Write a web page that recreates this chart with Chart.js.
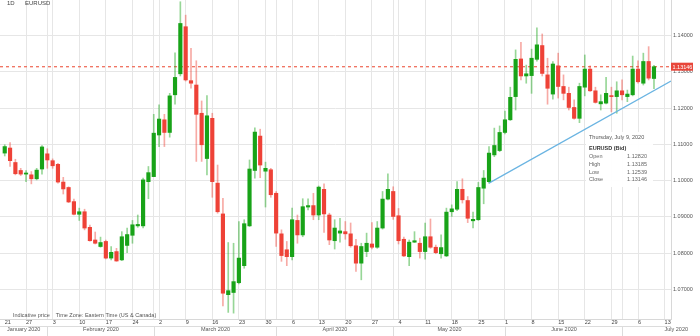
<!DOCTYPE html>
<html>
<head>
<meta charset="utf-8">
<script src="https://cdn.jsdelivr.net/npm/chart.js@4.4.1/dist/chart.umd.min.js"></script>
<style>
  html, body { margin: 0; padding: 0; background: #fff; }
  #fxChart { display: block; }
</style>
</head>
<body>
<canvas id="fxChart" width="700" height="336"></canvas>
<script>
// Bảng dữ liệu: EURUSD nến ngày, 21/01 -> 09/07/2020 (mỗi phần tử là 1 phiên)
const period = '1D';
const symbol = 'EURUSD';
const infoTitle = 'Thursday, July 9, 2020';
const footNote = 'Indicative price    Time Zone: Eastern Time (US & Canada)';

const opens = [
  1.1076, 1.1090, 1.1050, 1.1028, 1.1018, 1.1016, 1.1005, 1.1032, 1.1074, 1.1055,
  1.1045, 1.0996, 1.0981, 1.0942, 1.0907, 1.0914, 1.0871, 1.0836, 1.0818, 1.0832,
  1.0786, 1.0804, 1.0781, 1.0821, 1.0849, 1.0875, 1.0875, 1.0997, 1.1011, 1.1126,
  1.1168, 1.1133, 1.1237, 1.1295, 1.1425, 1.1276, 1.1264, 1.1186, 1.1061, 1.1172,
  1.0993, 1.0908, 1.0685, 1.0691, 1.0718, 1.0765, 1.0875, 1.1028, 1.1123, 1.1026,
  1.1030, 1.0965, 1.0853, 1.0809, 1.0790, 1.0890, 1.0850, 1.0927, 1.0931, 1.0905,
  1.0976, 1.0905, 1.0834, 1.0855, 1.0859, 1.0853, 1.0820, 1.0772, 1.0804, 1.0825,
  1.0816, 1.0869, 1.0949, 1.0970, 1.0903, 1.0838, 1.0790, 1.0830, 1.0827, 1.0804,
  1.0845, 1.0816, 1.0798, 1.0792, 1.0914, 1.0921, 1.0976, 1.0945, 1.0889, 1.0892,
  1.0979, 1.0997, 1.1071, 1.1083, 1.1133, 1.1168, 1.1232, 1.1336, 1.1289, 1.1290,
  1.1335, 1.1373, 1.1292, 1.1239, 1.1317, 1.1260, 1.1241, 1.1202, 1.1172, 1.1258,
  1.1308, 1.1248, 1.1212, 1.1214, 1.1234, 1.1232, 1.1248, 1.1232, 1.1237, 1.1308,
  1.1269, 1.1329, 1.12820
];
const highs = [
  1.1099, 1.1105, 1.1059, 1.1034, 1.1028, 1.1025, 1.1034, 1.1097, 1.1088, 1.1060,
  1.1048, 1.1009, 1.0983, 1.0949, 1.0924, 1.0921, 1.0877, 1.0858, 1.0844, 1.0836,
  1.0818, 1.0813, 1.0859, 1.0869, 1.0890, 1.0905, 1.1007, 1.1039, 1.1183, 1.1209,
  1.1183, 1.1241, 1.1353, 1.1494, 1.1457, 1.1365, 1.1331, 1.1220, 1.1235, 1.1186,
  1.1043, 1.0951, 1.0829, 1.0827, 1.0887, 1.0892, 1.1057, 1.1146, 1.1142, 1.1051,
  1.1034, 1.0970, 1.0864, 1.0832, 1.0924, 1.0905, 1.0950, 1.0950, 1.0965, 1.0985,
  1.0991, 1.0910, 1.0892, 1.0896, 1.0887, 1.0883, 1.0838, 1.0827, 1.0855, 1.0884,
  1.0887, 1.0970, 1.1019, 1.0983, 1.0923, 1.0844, 1.0836, 1.0859, 1.0841, 1.0883,
  1.0894, 1.0822, 1.0850, 1.0924, 1.0933, 1.0997, 1.1005, 1.0956, 1.0913, 1.0995,
  1.1028, 1.1094, 1.1145, 1.1151, 1.1192, 1.1258, 1.1361, 1.1382, 1.1319, 1.1363,
  1.1422, 1.1405, 1.1338, 1.1329, 1.1352, 1.1292, 1.1258, 1.1223, 1.1269, 1.1347,
  1.1317, 1.1258, 1.1237, 1.1285, 1.1258, 1.1273, 1.1278, 1.1250, 1.1344, 1.1331,
  1.1352, 1.1370, 1.13185
];
const lows = [
  1.1068, 1.1039, 1.1016, 1.1014, 1.0997, 1.0991, 1.1002, 1.1018, 1.1034, 1.1034,
  1.0993, 1.0963, 1.0939, 1.0905, 1.0890, 1.0864, 1.0833, 1.0825, 1.0816, 1.0784,
  1.0781, 1.0777, 1.0779, 1.0801, 1.0827, 1.0871, 1.0869, 1.0950, 1.1011, 1.1094,
  1.1094, 1.1120, 1.1211, 1.1289, 1.1275, 1.1255, 1.1053, 1.1053, 1.1016, 1.0954,
  1.0910, 1.0654, 1.0636, 1.0634, 1.0715, 1.0758, 1.0873, 1.1007, 1.1008, 1.0927,
  1.0954, 1.0818, 1.0777, 1.0765, 1.0781, 1.0827, 1.0845, 1.0919, 1.0892, 1.0892,
  1.0857, 1.0823, 1.0811, 1.0830, 1.0838, 1.0816, 1.0749, 1.0726, 1.0790, 1.0811,
  1.0813, 1.0866, 1.0947, 1.0893, 1.0825, 1.0790, 1.0765, 1.0829, 1.0786, 1.0783,
  1.0813, 1.0798, 1.0786, 1.0790, 1.0901, 1.0917, 1.0938, 1.0884, 1.0869, 1.0890,
  1.0936, 1.0993, 1.1066, 1.1080, 1.1129, 1.1166, 1.1195, 1.1278, 1.1269, 1.1241,
  1.1330, 1.1289, 1.1211, 1.1225, 1.1228, 1.1223, 1.1195, 1.1170, 1.1160, 1.1234,
  1.1246, 1.1214, 1.1195, 1.1212, 1.1190, 1.1186, 1.1223, 1.1218, 1.1234, 1.1269,
  1.1264, 1.1278, 1.12539
];
const closes = [
  1.1094, 1.1055, 1.1019, 1.1018, 1.1021, 1.1005, 1.1029, 1.1093, 1.1057, 1.1041,
  1.0996, 1.0977, 1.0941, 1.0907, 1.0914, 1.0869, 1.0834, 1.0827, 1.0829, 1.0786,
  1.0802, 1.0778, 1.0845, 1.0851, 1.0878, 1.0879, 1.1002, 1.1022, 1.1131, 1.1170,
  1.1133, 1.1234, 1.1285, 1.1434, 1.1278, 1.1269, 1.1183, 1.1099, 1.1179, 1.0997,
  1.0914, 1.0689, 1.0696, 1.0721, 1.0786, 1.0881, 1.1032, 1.1134, 1.1043, 1.1034,
  1.0961, 1.0855, 1.0793, 1.0790, 1.0892, 1.0850, 1.0928, 1.0931, 1.0905, 1.0982,
  1.0908, 1.0836, 1.0869, 1.0861, 1.0853, 1.0820, 1.0772, 1.0818, 1.0827, 1.0816,
  1.0869, 1.0949, 1.0976, 1.0901, 1.0834, 1.0792, 1.0830, 1.0834, 1.0804, 1.0845,
  1.0816, 1.0801, 1.0815, 1.0913, 1.0922, 1.0976, 1.0947, 1.0896, 1.0893, 1.0981,
  1.1007, 1.1076, 1.1097, 1.1133, 1.1168, 1.1230, 1.1335, 1.1289, 1.1295, 1.1338,
  1.1375, 1.1296, 1.1255, 1.1322, 1.1260, 1.1241, 1.1202, 1.1172, 1.1260, 1.1308,
  1.1248, 1.1216, 1.1218, 1.1241, 1.1232, 1.1248, 1.1237, 1.1239, 1.1308, 1.1273,
  1.1329, 1.1283, 1.13146
];

// Nhãn trục X (chỉ số phiên -> ngày) và tháng
const dayTickIdx = [0, 4, 9, 14, 19, 24, 29, 34, 39, 44, 49, 54, 59, 64, 69, 74, 79, 84, 89, 94, 99, 104, 109, 114, 119, 124];
const dayTickLabels = ['21', '27', '3', '10', '17', '24', '2', '9', '16', '23', '30', '6', '13', '20', '27', '4', '11', '18', '25', '1', '8', '15', '22', '29', '6', '13'];
const monthNames = ['January 2020', 'February 2020', 'March 2020', 'April 2020', 'May 2020', 'June 2020', 'July 2020'];
const monthSepIdx = [8, 28, 51, 73, 94, 116];
const yTicks = [1.07, 1.08, 1.09, 1.10, 1.11, 1.12, 1.13, 1.14];

// Đường xu hướng (vẽ tay trên chart gốc)
const trendX = [91, 125.2];
const trendY = [1.0993, 1.1275];

const X_MIN = -0.89, X_MAX = 125.2;
const Y_MIN = 1.06178, Y_MAX = 1.14988;

const FONT = 'Liberation Sans, Arial, sans-serif';
const UP = '#18a318', DOWN = '#ee4237';
const UP_WICK = 'rgba(24,163,24,0.45)', DOWN_WICK = 'rgba(238,66,55,0.45)';

const gridTicks = [...new Set([...dayTickIdx, ...monthSepIdx])].sort((a, b) => a - b);

const isUp = i => closes[i] >= opens[i];
const bodyData = opens.map((o, i) => ({ x: i, y: [o, closes[i]] }));
const wickData = lows.map((l, i) => ({ x: i, y: [l, highs[i]] }));
const trendData = trendX.map((x, i) => ({ x: x, y: trendY[i] }));

// Vẽ thêm: đường giá hiện tại, nhãn giá, tiêu đề, hàng tháng, hộp thông tin
const overlay = {
  id: 'overlay',
  beforeDatasetsDraw(chart) {
    const { ctx, chartArea: a, scales: { y } } = chart;
    const py = y.getPixelForValue(closes[closes.length - 1]);
    ctx.save();
    ctx.strokeStyle = '#f0705f';
    ctx.lineWidth = 1.3;
    ctx.setLineDash([3, 3]);
    ctx.beginPath();
    ctx.moveTo(a.left, py);
    ctx.lineTo(a.right, py);
    ctx.stroke();
    ctx.restore();
  },
  afterDraw(chart) {
    const { ctx, chartArea: a, scales: { x, y } } = chart;
    const W = chart.width;
    const last = closes.length - 1;
    ctx.save();

    // nhãn giá đóng cửa
    const py = y.getPixelForValue(closes[last]);
    ctx.fillStyle = '#e8463a';
    ctx.fillRect(a.right, py - 4, 22, 8);
    ctx.fillStyle = '#fff';
    ctx.font = '5.5px ' + FONT;
    ctx.textBaseline = 'middle';
    ctx.textAlign = 'left';
    ctx.fillText(closes[last].toFixed(5), a.right + 1.5, py + 0.3);

    // tiêu đề góc trái
    ctx.fillStyle = '#444';
    ctx.font = '6px ' + FONT;
    ctx.textBaseline = 'alphabetic';
    ctx.fillText(period, 7, 5.3);
    ctx.fillText(symbol, 25, 5.3);

    // ghi chú dưới
    ctx.fillStyle = '#555';
    ctx.font = '5.5px ' + FONT;
    ctx.fillText(footNote, 13, 317);

    // hàng tháng
    const rowTop = a.bottom + 7;
    ctx.strokeStyle = '#dcdcdc';
    ctx.lineWidth = 1;
    ctx.beginPath();
    ctx.moveTo(a.left, rowTop + 0.5);
    ctx.lineTo(a.right, rowTop + 0.5);
    const seps = monthSepIdx.map(v => Math.round(x.getPixelForValue(v)) + 0.5);
    seps.forEach(sx => { ctx.moveTo(sx, rowTop); ctx.lineTo(sx, chart.height); });
    ctx.stroke();
    const bounds = [a.left, ...seps, W];
    ctx.fillStyle = '#555';
    ctx.textAlign = 'center';
    monthNames.forEach((m, i) => {
      let cx = (bounds[i] + bounds[i + 1]) / 2;
      if (i === monthNames.length - 1) cx += 15;
      ctx.fillText(m, cx, rowTop + 5.3);
    });

    // hộp thông tin phiên cuối
    const bx = 586, by = 132, bw = 67, bh = 55;
    ctx.fillStyle = 'rgba(255,255,255,0.94)';
    ctx.fillRect(bx, by, bw, bh);
    ctx.textAlign = 'left';
    ctx.fillStyle = '#555';
    ctx.font = '5.5px ' + FONT;
    ctx.fillText(infoTitle, bx + 3, by + 6.8);
    ctx.fillStyle = '#333';
    ctx.font = 'bold 5.5px ' + FONT;
    ctx.fillText(symbol + ' (Bid)', bx + 3, by + 17.8);
    ctx.font = '5.5px ' + FONT;
    const rows = [['Open', opens[last]], ['High', highs[last]], ['Low', lows[last]], ['Close', closes[last]]];
    rows.forEach((r, i) => {
      const ty = by + 26.3 + i * 7.7;
      ctx.fillStyle = '#666';
      ctx.textAlign = 'left';
      ctx.fillText(r[0], bx + 3, ty);
      ctx.textAlign = 'right';
      ctx.fillText(r[1].toFixed(5), bx + 61, ty);
    });
    ctx.restore();
  }
};

const ctx = document.getElementById('fxChart').getContext('2d');
window.fxChart = new Chart(ctx, {
  type: 'bar',
  data: {
    datasets: [
      {
        type: 'line',
        data: trendData,
        borderColor: '#6ab4e2',
        borderWidth: 1.2,
        pointRadius: 0,
        order: 0
      },
      {
        data: bodyData,
        backgroundColor: c => isUp(c.dataIndex) ? UP : DOWN,
        barThickness: 3.5,
        minBarLength: 1,
        grouped: false,
        order: 1
      },
      {
        data: wickData,
        backgroundColor: c => isUp(c.dataIndex) ? UP_WICK : DOWN_WICK,
        barThickness: 1,
        grouped: false,
        order: 2
      }
    ]
  },
  options: {
    responsive: false,
    animation: false,
    events: [],
    layout: { padding: 0 },
    plugins: { legend: { display: false }, tooltip: { enabled: false } },
    scales: {
      x: {
        type: 'linear',
        min: X_MIN,
        max: X_MAX,
        offset: false,
        grid: {
          offset: false,
          drawTicks: false,
          color: c => (c.tick && c.tick.value === 0) ? 'rgba(0,0,0,0)' : '#e6e6e6'
        },
        border: { display: true, color: '#d8d8d8' },
        afterBuildTicks: s => { s.ticks = gridTicks.map(v => ({ value: v })); },
        afterFit: s => { s.height = 17; s.paddingLeft = 0; s.paddingRight = 0; },
        ticks: {
          autoSkip: false,
          maxRotation: 0,
          align: 'start',
          padding: 0,
          color: '#444',
          font: { family: FONT, size: 5.5 },
          callback: v => {
            const k = dayTickIdx.indexOf(v);
            return k >= 0 ? dayTickLabels[k] : '';
          }
        }
      },
      y: {
        position: 'right',
        min: Y_MIN,
        max: Y_MAX,
        grid: { drawTicks: false, color: '#e6e6e6' },
        border: { display: true, color: '#d8d8d8' },
        afterBuildTicks: s => { s.ticks = yTicks.map(v => ({ value: v })); },
        afterFit: s => { s.width = 29; s.paddingTop = 0; s.paddingBottom = 0; },
        ticks: {
          padding: 2,
          color: '#555',
          font: { family: FONT, size: 5.5 },
          callback: v => v.toFixed(5)
        }
      }
    }
  },
  plugins: [overlay]
});
</script>
</body>
</html>
